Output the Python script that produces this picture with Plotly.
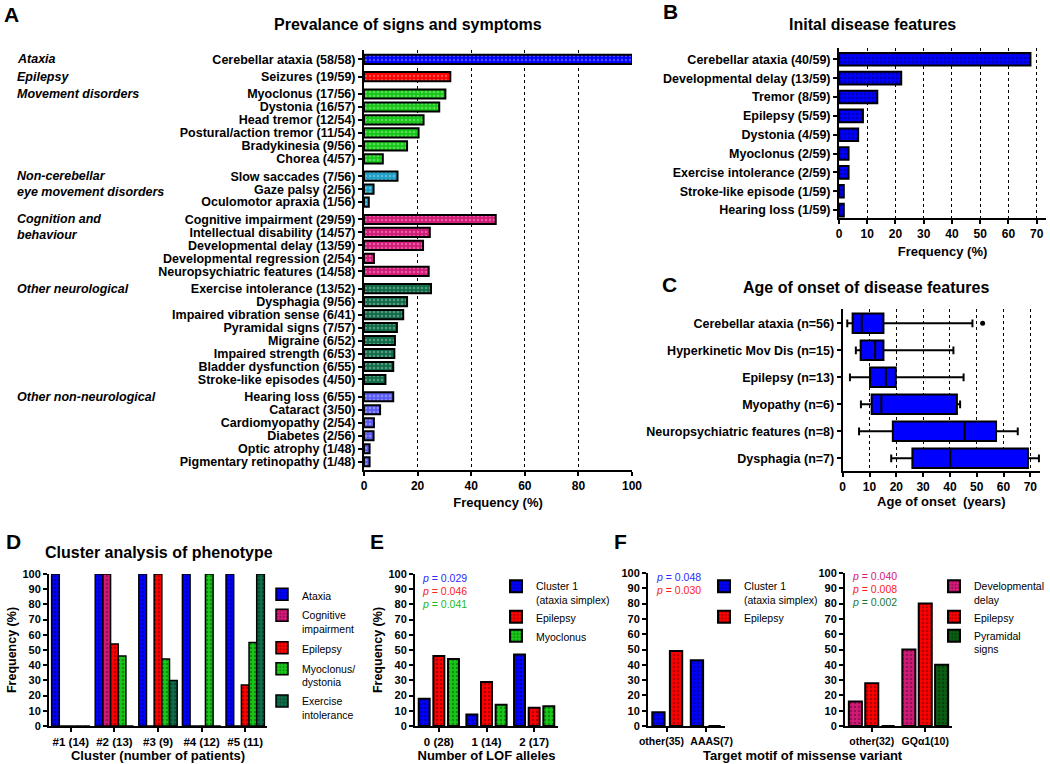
import plotly.graph_objects as go

W, H = 1050, 764
FONT = "Liberation Sans, Arial, Helvetica, sans-serif"

# ---- A: prevalence of signs and symptoms
A_GROUPS = ["Ataxia", "Epilepsy", "Movement disorders",
            "Non-cerebellar<br>eye movement disorders", "Cognition and<br>behaviour",
            "Other neurological", "Other non-neurological"]
A_GROUP_COLORS = ["#0000ff", "#ff0000", "#18c818", "#1f9fc6", "#d41a78", "#0f6b48", "#5b5bf4"]
A_FEATURES = ["Cerebellar ataxia", "Seizures", "Myoclonus", "Dystonia", "Head tremor",
              "Postural/action tremor", "Bradykinesia", "Chorea", "Slow saccades",
              "Gaze palsy", "Oculomotor apraxia", "Cognitive impairment",
              "Intellectual disability", "Developmental delay", "Developmental regression",
              "Neuropsychiatric features", "Exercise intolerance", "Dysphagia",
              "Impaired vibration sense", "Pyramidal signs", "Migraine", "Impaired strength",
              "Bladder dysfunction", "Stroke-like episodes", "Hearing loss", "Cataract",
              "Cardiomyopathy", "Diabetes", "Optic atrophy", "Pigmentary retinopathy"]
A_GROUP_OF = [0, 1, 2, 2, 2, 2, 2, 2, 3, 3, 3, 4, 4, 4, 4, 4,
              5, 5, 5, 5, 5, 5, 5, 5, 6, 6, 6, 6, 6, 6]
A_AFFECTED = [58, 19, 17, 16, 12, 11, 9, 4, 7, 2, 1, 29, 14, 13, 2, 14,
              13, 9, 6, 7, 6, 6, 6, 4, 6, 3, 2, 2, 1, 1]
A_ASSESSED = [58, 59, 56, 57, 54, 54, 56, 57, 56, 56, 56, 59, 57, 59, 54, 58,
              52, 56, 41, 57, 52, 53, 55, 50, 55, 50, 54, 56, 48, 48]

# ---- B: initial disease features
B_FEATURES = ["Cerebellar ataxia", "Developmental delay", "Tremor", "Epilepsy", "Dystonia",
              "Myoclonus", "Exercise intolerance", "Stroke-like episode", "Hearing loss"]
B_AFFECTED = [40, 13, 8, 5, 4, 2, 2, 1, 1]
B_TOTAL = 59

# ---- C: age of onset (years)
C_FEATURES = ["Cerebellar ataxia", "Hyperkinetic Mov Dis", "Epilepsy", "Myopathy",
              "Neuropsychiatric features", "Dysphagia"]
C_N = [56, 15, 13, 6, 8, 7]
C_LOW = [1.7, 4.9, 2.7, 6.8, 6.1, 18.1]
C_Q1 = [3.7, 6.7, 10.2, 10.8, 18.7, 26.0]
C_MEDIAN = [7.1, 12.1, 16.1, 14.4, 45.5, 40.1]
C_Q3 = [15.2, 15.2, 19.8, 42.6, 57.2, 69.1]
C_HIGH = [48.4, 41.3, 45.1, 43.8, 65.3, 73.2]
C_OUTLIER_FEATURE = 0
C_OUTLIER_AGE = 52.2

# ---- D: cluster analysis
D_CLUSTERS = ["#1 (14)", "#2 (13)", "#3 (9)", "#4 (12)", "#5 (11)"]
D_SERIES = ["Ataxia", "Cognitive<br>impairment", "Epilepsy", "Myoclonus/<br>dystonia",
            "Exercise<br>intolerance"]
D_ATAXIA = [100, 100, 100, 100, 100]
D_COGNITIVE = [0, 100, 0, 0, 0]
D_EPILEPSY = [0, 54, 100, 0, 27]
D_MYOCLONUS = [0, 46, 44, 100, 55]
D_EXERCISE = [0, 0, 30, 0, 100]

# ---- E: number of LOF alleles
E_ALLELES = ["0 (28)", "1 (14)", "2 (17)"]
E_SERIES = ["Cluster 1<br>(ataxia simplex)", "Epilepsy", "Myoclonus"]
E_CLUSTER1 = [18, 7.5, 47]
E_EPILEPSY = [46, 29, 12]
E_MYOCLONUS = [44, 14, 13]
E_PVALUES = ["0.029", "0.046", "0.041"]

# ---- F: target motif of missense variant
F1_MOTIFS = ["other(35)", "AAAS(7)"]
F1_SERIES = ["Cluster 1<br>(ataxia simplex)", "Epilepsy"]
F1_CLUSTER1 = [9, 43]
F1_EPILEPSY = [49, 0]
F1_PVALUES = ["0.048", "0.030"]
F2_MOTIFS = ["other(32)", "GQα1(10)"]
F2_SERIES = ["Developmental<br>delay", "Epilepsy", "Pyramidal<br>signs"]
F2_DEVDELAY = [16, 50]
F2_EPILEPSY = [28, 80]
F2_PYRAMIDAL = [0, 40]
F2_PVALUES = ["0.040", "0.008", "0.002"]

BLUE, RED, GREEN = "#0000ff", "#ff0000", "#18c818"
MAGENTA, TEAL, DKGREEN = "#d41a78", "#0f6b48", "#0b5e14"


def px(x):
    return x / W


def py(y):
    return 1 - y / H


def dots():
    return dict(shape=".", fillmode="overlay", fgcolor="black", fgopacity=0.3,
                size=4, solidity=0.3)


def bar_marker(color, lw=2):
    return dict(color=color, line=dict(color="black", width=lw), pattern=dots())


def bold(size):
    return dict(family=FONT, size=size, color="black", weight="bold")


def axis(x0, x1, **kw):
    d = dict(domain=[x0, x1], showline=True, linecolor="black", linewidth=2,
             ticks="outside", ticklen=4, tickwidth=2, tickcolor="black",
             tickfont=bold(12), showgrid=False, zeroline=False,
             automargin=False, fixedrange=True)
    d.update(kw)
    return d


def atitle(text, standoff=4, size=13):
    return dict(text=text, standoff=standoff, font=bold(size))


GRID = dict(showgrid=True, gridcolor="black", griddash="dot", gridwidth=1.2)

fig = go.Figure()

# A
a_pos = [i + g / 3 for i, g in enumerate(A_GROUP_OF)]
a_pct = [100 * a / n for a, n in zip(A_AFFECTED, A_ASSESSED)]
a_labels = [f"{f} ({a}/{n})" for f, a, n in zip(A_FEATURES, A_AFFECTED, A_ASSESSED)]
fig.add_trace(go.Bar(
    x=a_pct, y=a_pos, orientation="h", width=0.7,
    marker=bar_marker([A_GROUP_COLORS[g] for g in A_GROUP_OF]),
    xaxis="x", yaxis="y", showlegend=False,
))

# B
b_pct = [100 * a / B_TOTAL for a in B_AFFECTED]
b_labels = [f"{f} ({a}/{B_TOTAL})" for f, a in zip(B_FEATURES, B_AFFECTED)]
fig.add_trace(go.Bar(
    x=b_pct, y=b_labels, orientation="h", width=0.67, marker=bar_marker(BLUE),
    xaxis="x2", yaxis="y2", showlegend=False,
))

# C
c_labels = [f"{f} (n={n})" for f, n in zip(C_FEATURES, C_N)]
fig.add_trace(go.Box(
    y=c_labels, q1=C_Q1, median=C_MEDIAN, q3=C_Q3, lowerfence=C_LOW, upperfence=C_HIGH,
    orientation="h", fillcolor=BLUE, line=dict(color="black", width=2),
    width=0.72, whiskerwidth=0.4, boxpoints=False,
    xaxis="x3", yaxis="y3", showlegend=False,
))
fig.add_trace(go.Scatter(
    x=[C_OUTLIER_AGE], y=[c_labels[C_OUTLIER_FEATURE]], mode="markers",
    marker=dict(color="black", size=5), xaxis="x3", yaxis="y3", showlegend=False,
))


def grouped(cats, series, values, colors, xa, ya, leg, bw, step, lw=2):
    n = len(series)
    start = -(bw + step * (n - 1)) / 2
    for k, (name, vals, col) in enumerate(zip(series, values, colors)):
        fig.add_trace(go.Bar(
            x=cats, y=vals, name=name, width=bw, offset=start + k * step,
            marker=bar_marker(col, lw), xaxis=xa, yaxis=ya,
            legend=leg, legendgroup=name,
        ))


grouped(D_CLUSTERS, D_SERIES, [D_ATAXIA, D_COGNITIVE, D_EPILEPSY, D_MYOCLONUS, D_EXERCISE],
        [BLUE, MAGENTA, RED, GREEN, TEAL], "x4", "y4", "legend", 0.176, 0.176, lw=1.5)
grouped(E_ALLELES, E_SERIES, [E_CLUSTER1, E_EPILEPSY, E_MYOCLONUS],
        [BLUE, RED, GREEN], "x5", "y5", "legend2", 0.23, 0.307)
grouped(F1_MOTIFS, F1_SERIES, [F1_CLUSTER1, F1_EPILEPSY],
        [BLUE, RED], "x6", "y6", "legend3", 0.32, 0.457)
grouped(F2_MOTIFS, F2_SERIES, [F2_DEVDELAY, F2_EPILEPSY, F2_PYRAMIDAL],
        [MAGENTA, RED, DKGREEN], "x7", "y7", "legend4", 0.244, 0.306)

# the two F1 labels are wider than their slots: nudge them apart a little
pad = "&nbsp;" * 4
f1_ticktext = [F1_MOTIFS[0] + pad, pad + F1_MOTIFS[1]]

ytick = bold(12.5)
small_y = dict(range=[0, 100], dtick=10, tickfont=bold(11))
small_x = dict(tickangle=0, tickfont=bold(11.5))

fig.update_layout(
    width=W, height=H, margin=dict(l=0, r=0, t=0, b=0),
    paper_bgcolor="white", plot_bgcolor="white", barmode="overlay",
    font=dict(family=FONT, color="black"),
    xaxis=axis(px(364), px(632), anchor="y", range=[0, 100], dtick=20,
               title=atitle("Frequency (%)", 5), **GRID),
    yaxis=axis(py(470), py(50), anchor="x", range=[31.64, -0.72],
               tickvals=a_pos, ticktext=a_labels, tickfont=ytick),
    xaxis2=axis(px(839), px(1046), anchor="y2", range=[0, 73.3], dtick=10,
                title=atitle("Frequency (%)", 6), **GRID),
    yaxis2=axis(py(218), py(48), anchor="x2", range=[8.42, -0.6], type="category",
                tickfont=ytick),
    xaxis3=axis(px(842.7), px(1040), anchor="y3", range=[0, 73.6], dtick=10,
                title=atitle("Age of onset  (years)", 3), **GRID),
    yaxis3=axis(py(471), py(309), anchor="x3", range=[5.47, -0.53], type="category",
                categoryorder="array", categoryarray=c_labels, tickfont=ytick),
    xaxis4=axis(px(49), px(267), anchor="y4", range=[-0.5, 4.5],
                title=atitle("Cluster (number of patients)", 4), **small_x),
    yaxis4=axis(py(726), py(574), anchor="x4", title=atitle("Frequency (%)", 3, 12.5),
                **small_y),
    xaxis5=axis(px(415), px(558), anchor="y5", range=[-0.5, 2.5],
                title=atitle("Number of LOF alleles", 4), **small_x),
    yaxis5=axis(py(726), py(574), anchor="x5", title=atitle("Frequency (%)", 3, 12.5),
                **small_y),
    xaxis6=axis(px(648), px(725), anchor="y6", range=[-0.5, 1.5], tickangle=0,
                tickmode="array", tickvals=F1_MOTIFS, ticktext=f1_ticktext,
                tickfont=bold(10.5)),
    yaxis6=axis(py(726), py(573), anchor="x6", **small_y),
    xaxis7=axis(px(845), px(952), anchor="y7", range=[-0.5, 1.5], tickangle=0,
                tickfont=bold(10.5)),
    yaxis7=axis(py(726), py(573), anchor="x7", **small_y),
)

leg_common = dict(xanchor="left", yanchor="top", bgcolor="rgba(0,0,0,0)",
                  font=dict(family=FONT, size=10.5, color="black"), valign="top",
                  itemclick=False, itemdoubleclick=False)
fig.update_layout(
    legend=dict(x=px(262), y=py(581), tracegroupgap=2, **leg_common),
    legend2=dict(x=px(496), y=py(573), tracegroupgap=0, **leg_common),
    legend3=dict(x=px(704), y=py(573), tracegroupgap=0, **leg_common),
    legend4=dict(x=px(934), y=py(573), tracegroupgap=0, **leg_common),
)

ann = []


def text(x, y, s, size=16, is_bold=True, color="black", xanchor="center"):
    ann.append(dict(x=px(x), y=py(y), xref="paper", yref="paper", text=s, showarrow=False,
                    xanchor=xanchor, yanchor="middle",
                    font=dict(family=FONT, size=size, color=color,
                              weight="bold" if is_bold else "normal")))


for letter, x, y in [("A", 11, 14), ("B", 670, 12), ("C", 669, 284),
                     ("D", 13, 541), ("E", 377, 541), ("F", 620, 541)]:
    text(x, y, letter, size=21)

text(408, 25, "Prevalance of signs and symptoms")
text(872, 25, "Inital disease features")
text(866, 287, "Age of onset of disease features")
text(159, 552, "Cluster analysis of phenotype")
text(803, 755, "Target motif of missense variant", size=13)

# group labels of panel A
for g, name in enumerate(A_GROUPS):
    first = A_GROUP_OF.index(g)
    nlines = name.count("<br>") + 1
    ann.append(dict(x=px(15), y=a_pos[first], xref="paper", yref="y", text=name,
                    showarrow=False, xanchor="left", yanchor="middle", align="left",
                    yshift=-(nlines - 1) * 8,
                    font=dict(family=FONT, size=12.5, color="black", weight="bold",
                              style="italic")))

# p-values
P_COLORS_E = ["#2b2bff", "#ff2020", "#20b820"]
for i, (p, c) in enumerate(zip(E_PVALUES, P_COLORS_E)):
    text(420, 578 + i * 13, f"<i>p</i> = {p}", size=10.5, is_bold=False, color=c, xanchor="left")
for i, (p, c) in enumerate(zip(F1_PVALUES, P_COLORS_E)):
    text(654, 577 + i * 13, f"<i>p</i> = {p}", size=10.5, is_bold=False, color=c, xanchor="left")
for i, (p, c) in enumerate(zip(F2_PVALUES, ["#d41a78", "#ff2020", "#1a7a3a"])):
    text(850, 576 + i * 13, f"<i>p</i> = {p}", size=10.5, is_bold=False, color=c, xanchor="left")

fig.update_layout(annotations=ann)

fig.write_html("out.html", config={"displayModeBar": False},
               post_script="document.body.style.margin = '0';")
